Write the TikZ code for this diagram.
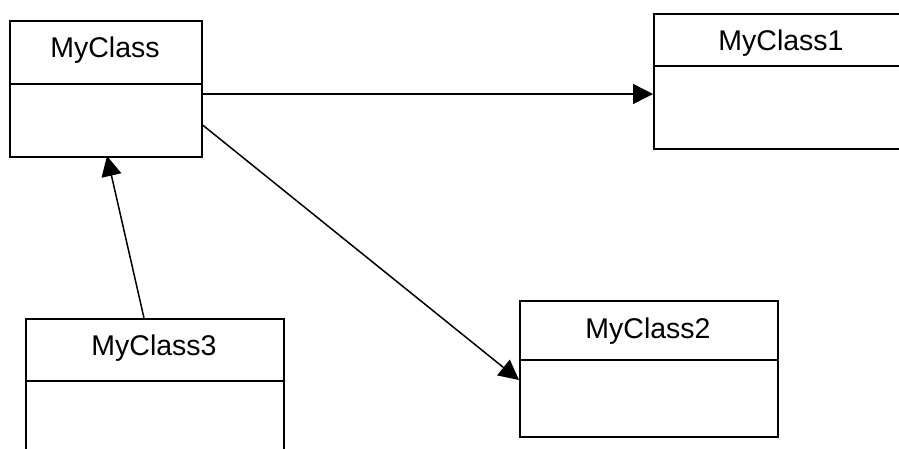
\documentclass[tikz,border=0pt]{standalone}
\usepackage{fontspec}
\setmainfont{Liberation Sans}
\usetikzlibrary{arrows.meta}
\tikzset{
  classbox/.style={draw=black, line width=1.6pt, rectangle, anchor=north west, inner sep=0pt},
  classname/.style={anchor=base, inner sep=0pt, font=\fontsize{28.5}{34}\selectfont},
  divider/.style={draw=black, line width=1.6pt},
  assoc/.style={draw=black, line width=1.5pt, -{Triangle[length=20pt,width=20pt]}}
}
\begin{document}
\begin{tikzpicture}[x=1pt,y=-1pt]
\fill[white] (0,0) rectangle (899,448);
\useasboundingbox (0,0) rectangle (899,448);
\clip (0,0) rectangle (899,448);
% MyClass
\node[classbox, minimum width=192pt, minimum height=136pt] (c0) at (9,20) {};
\node[classname] (t0) at (105,57) {MyClass};
\draw[divider] (c0.west |- 0,84) -- (c0.east |- 0,84);
% MyClass1
\node[classbox, minimum width=257pt, minimum height=135pt] (c1) at (653,13) {};
\node[classname] (t1) at (781,50) {MyClass1};
\draw[divider] (c1.west |- 0,66) -- (c1.east |- 0,66);
% MyClass2
\node[classbox, minimum width=258pt, minimum height=136pt] (c2) at (519,300) {};
\node[classname] (t2) at (648,338) {MyClass2};
\draw[divider] (c2.west |- 0,360) -- (c2.east |- 0,360);
% MyClass3
\node[classbox, minimum width=258pt, minimum height=150pt] (c3) at (25,318) {};
\node[classname] (t3) at (154,355) {MyClass3};
\draw[divider] (c3.west |- 0,381) -- (c3.east |- 0,381);
% connectors
\coordinate (a0s) at (c0.east |- 0,94);
\coordinate (a0e) at (c1.west |- 0,94);
\coordinate (b0s) at (c0.east |- 0,125);
\coordinate (b0e) at (c2.west |- 0,380);
\coordinate (d0s) at (144,318);
\coordinate (d0e) at (107,156);
\draw[assoc] (a0s) -- (a0e);
\draw[assoc] (b0s) -- (b0e);
\draw[assoc] (d0s) -- (d0e);
\end{tikzpicture}
\end{document}
